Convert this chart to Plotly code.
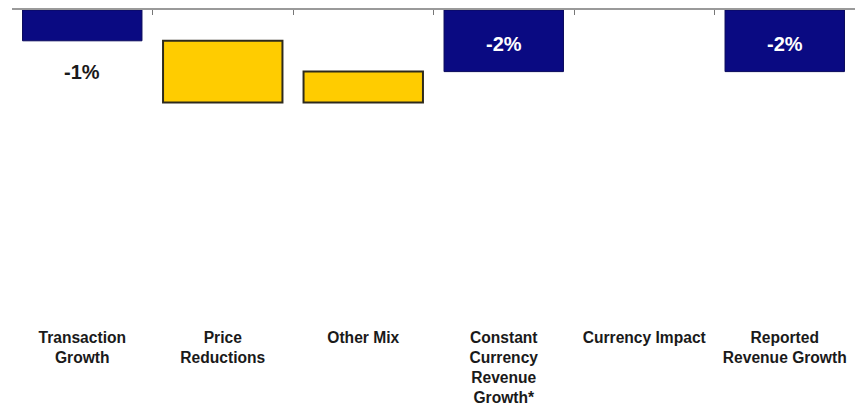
import plotly.graph_objects as go

# Revenue bridge: steps from transaction growth to reported revenue growth (%)
categories = [
    "Transaction<br>Growth",
    "Price<br>Reductions",
    "Other Mix",
    "Constant<br>Currency<br>Revenue<br>Growth*",
    "Currency Impact",
    "Reported<br>Revenue Growth",
]
values = [-1, -2, 1, -2, 0, -2]
kinds = ["total", "step", "step", "total", "step", "total"]
value_labels = ["-1%", "", "", "-2%", "", "-2%"]

NAVY = "#0a0a82"
GOLD = "#ffcc00"
y_floor = -10.26

# Bases and heights: totals start at zero, steps continue from the running level
bases, heights, running = [], [], 0
for v, k in zip(values, kinds):
    if k == "total":
        bases.append(0)
        running = v
    else:
        bases.append(running)
        running += v
    heights.append(v)

colors = [NAVY if k == "total" else GOLD for k in kinds]
line_colors = ["#08085a" if k == "total" else "#2e2a1c" for k in kinds]
line_widths = [1 if k == "total" else (2 if v != 0 else 0) for v, k in zip(values, kinds)]

fig = go.Figure()
fig.add_trace(go.Bar(
    x=categories, y=heights, base=bases,
    marker=dict(color=colors, line=dict(color=line_colors, width=line_widths)),
    width=0.85, hoverinfo="skip",
))
# empty trace so the zero-line axis gets drawn
fig.add_trace(go.Scatter(x=[], y=[], xaxis="x2", showlegend=False))

for cat, v, k, lab in zip(categories, values, kinds, value_labels):
    if not lab:
        continue
    if abs(v) < 1.5:
        # short bar: label sits beneath the bar end
        fig.add_annotation(x=cat, y=v, yshift=-31, text=lab, showarrow=False,
                           font=dict(family="Liberation Sans, Arial", size=20,
                                     color="#1a1a1a", weight="bold"),
                           yanchor="middle")
    else:
        fig.add_annotation(x=cat, y=v / 2, yshift=-3, text=lab, showarrow=False,
                           font=dict(family="Liberation Sans, Arial", size=20,
                                     color="white", weight="bold"),
                           yanchor="middle")

fig.update_layout(
    width=858, height=407,
    margin=dict(l=12, r=3, t=10, b=81, autoexpand=False),
    paper_bgcolor="white", plot_bgcolor="white",
    showlegend=False,
    font=dict(family="Liberation Sans, Arial", color="#1e1e1e"),
    xaxis=dict(
        type="category", categoryorder="array", categoryarray=categories,
        showline=False, ticks="", showgrid=False, zeroline=False,
        automargin=False,
        tickfont=dict(size=15.6, family="Liberation Sans, Arial", color="#1a1a1a", weight="bold"),
    ),
    xaxis2=dict(
        type="category", categoryorder="array", categoryarray=categories,
        overlaying="x", matches="x", side="top", anchor="y", automargin=False,
        showline=True, linecolor="#9a9a9a", linewidth=2,
        ticks="inside", tickson="boundaries", ticklen=5, tickcolor="#777", tickwidth=1,
        showticklabels=False, showgrid=False,
    ),
    yaxis=dict(range=[y_floor, 0], visible=False, showgrid=False, zeroline=False),
)

fig.write_html("out.html")
